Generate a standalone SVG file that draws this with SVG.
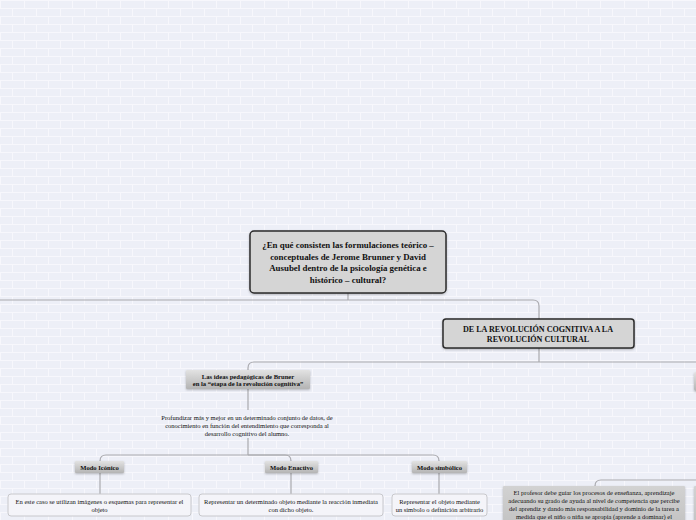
<svg xmlns="http://www.w3.org/2000/svg" width="696" height="520" viewBox="0 0 696 520">
<defs>
<pattern id="brick" width="48" height="16" patternUnits="userSpaceOnUse">
<rect width="48" height="16" fill="#edeff7"/>
<path d="M0,0.5H48M0,8.5H48M0.5,0V8M24.5,0V8M12.5,8V16M36.5,8V16" stroke="#f7f7fc" stroke-width="1" fill="none"/>
</pattern>
<linearGradient id="gray" x1="0" y1="0" x2="0" y2="1">
<stop offset="0" stop-color="#e2e2e2"/>
<stop offset="1" stop-color="#b4b4b4"/>
</linearGradient>
<linearGradient id="gray2" x1="0" y1="0" x2="0" y2="1">
<stop offset="0" stop-color="#d2d2d2"/>
<stop offset="1" stop-color="#c2c2c2"/>
</linearGradient>
<filter id="sh" x="-10%" y="-20%" width="120%" height="150%">
<feDropShadow dx="0" dy="1" stdDeviation="1" flood-color="#000" flood-opacity="0.25"/>
</filter>
</defs>
<style>
.conn{fill:none;stroke:#a9a9ae;stroke-width:1.2}
.main{fill:#d5d5d5;stroke:#2a2a2a;stroke-width:1.5}
.sub{fill:url(#gray)}
.box{fill:#f4f4f9;stroke:#c8c8cc;stroke-width:1}
.t{font-family:"Liberation Serif","Times New Roman",serif;fill:#111;text-anchor:middle}
.b{font-weight:bold}
.h1{font-size:8.9px}
.h2{font-size:8.1px}
.h3{font-size:6.6px}
.n{font-size:6.5px}
</style>
<rect width="696" height="520" fill="url(#brick)"/>
<g id="connectors">
<path class="conn" d="M348,293V300"/>
<path class="conn" d="M0,300H533Q539,300 539,306V319"/>
<path class="conn" d="M539,348V362"/>
<path class="conn" d="M696,362H254Q248,362 248,368V370"/>
<path class="conn" d="M248,389V410"/>
<path class="conn" d="M248,438V455"/>
<path class="conn" d="M248,455H106Q100,455 100,461"/>
<path class="conn" d="M248,455H285Q291,455 291,461"/>
<path class="conn" d="M248,455H433Q439,455 439,461"/>
<path class="conn" d="M100,473V494"/>
<path class="conn" d="M291,473V494"/>
<path class="conn" d="M439,473V494"/>
<path class="conn" d="M696,480H601Q595,480 595,486"/>
</g>
<g id="root">
<rect class="main" x="250" y="231" width="196" height="62" rx="4" filter="url(#sh)"/>
<text class="t b h1" x="348" y="248">¿En qué consisten las formulaciones teórico –</text>
<text class="t b h1" x="348" y="259.5">conceptuales de Jerome Brunner y David</text>
<text class="t b h1" x="348" y="271">Ausubel dentro de la psicología genética e</text>
<text class="t b h1" x="348" y="282.5">histórico – cultural?</text>
</g>
<g id="revolucion">
<rect class="main" x="443" y="319" width="191" height="29" rx="3" filter="url(#sh)"/>
<text class="t b h2" x="538" y="332">DE LA REVOLUCIÓN COGNITIVA A LA</text>
<text class="t b h2" x="538" y="341.5">REVOLUCIÓN CULTURAL</text>
</g>
<g id="right-top-partial">
<rect class="sub" x="694" y="372" width="20" height="19" rx="2" filter="url(#sh)"/>
</g>
<g id="bruner">
<rect class="sub" x="186" y="370" width="124" height="19" rx="1" filter="url(#sh)"/>
<text class="t b h3" x="248" y="378.5">Las ideas pedagógicas de Bruner</text>
<text class="t b h3" x="248" y="386">en la “etapa de la revolución cognitiva”</text>
</g>
<g id="profundizar">
<text class="t n" x="247" y="420">Profundizar más y mejor en un determinado conjunto de datos, de</text>
<text class="t n" x="247" y="428">conocimiento en función del entendimiento que corresponda al</text>
<text class="t n" x="247" y="436">desarrollo cognitivo del alumno.</text>
</g>
<g id="iconico">
<rect class="sub" x="75" y="461" width="49" height="12" rx="1" filter="url(#sh)"/>
<text class="t b h3" x="99.5" y="469.5">Modo Icónico</text>
</g>
<g id="enactivo">
<rect class="sub" x="265" y="461" width="53" height="12" rx="1" filter="url(#sh)"/>
<text class="t b h3" x="291.5" y="469.5">Modo Enactivo</text>
</g>
<g id="simbolico">
<rect class="sub" x="412" y="461" width="55" height="12" rx="1" filter="url(#sh)"/>
<text class="t b h3" x="439.5" y="469.5">Modo simbólico</text>
</g>
<g id="iconico-desc">
<rect class="box" x="8" y="494" width="183" height="22" rx="3"/>
<text class="t n" x="99.5" y="503.5">En este caso se utilizan imágenes o esquemas para representar el</text>
<text class="t n" x="99.5" y="511.5">objeto</text>
</g>
<g id="enactivo-desc">
<rect class="box" x="199" y="494" width="184" height="22" rx="3"/>
<text class="t n" x="291" y="503.5">Representar un determinado objeto mediante la reacción inmediata</text>
<text class="t n" x="291" y="511.5">con dicho objeto.</text>
</g>
<g id="simbolico-desc">
<rect class="box" x="392" y="494" width="95" height="22" rx="3"/>
<text class="t n" x="439.5" y="503.5">Representar el objeto mediante</text>
<text class="t n" x="439.5" y="511.5">un símbolo o definición arbitrario</text>
</g>
<g id="profesor">
<rect x="503" y="486" width="182" height="40" rx="1" fill="url(#gray2)" filter="url(#sh)"/>
<text class="t n" x="594" y="494.5">El profesor debe guiar los procesos de enseñanza, aprendizaje</text>
<text class="t n" x="594" y="502.5">adecuando su grado de ayuda al nivel de competencia que percibe</text>
<text class="t n" x="594" y="510.5">del aprendiz y dando más responsabilidad y dominio de la tarea a</text>
<text class="t n" x="594" y="518.5">medida que el niño o niña se apropia (aprende a dominar) el</text>
</g>
<g id="right-bottom-partial">
<rect x="694" y="486" width="20" height="40" rx="1" fill="url(#gray2)" filter="url(#sh)"/>
</g>
</svg>
